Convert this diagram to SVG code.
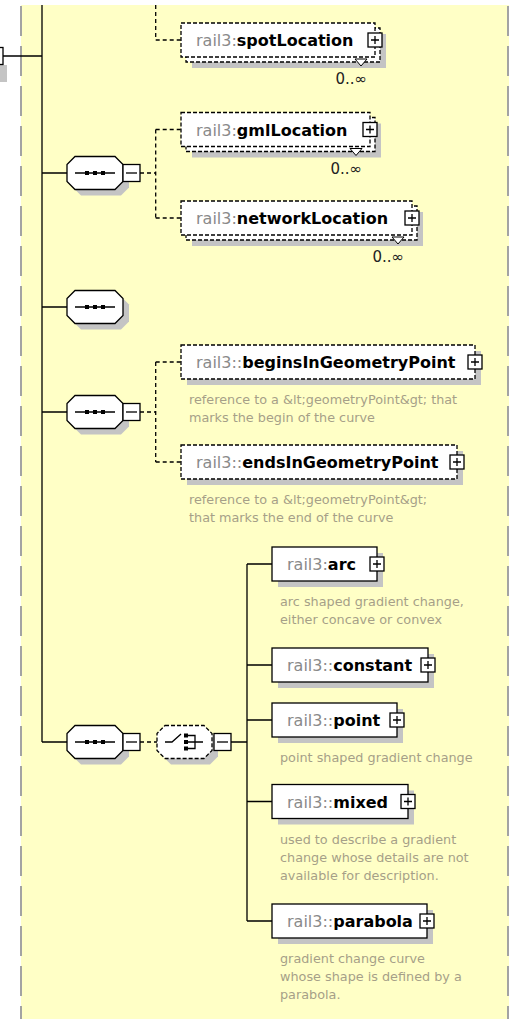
<svg xmlns="http://www.w3.org/2000/svg" xmlns:xlink="http://www.w3.org/1999/xlink" width="513" height="1019" viewBox="0 0 513 1019">
<style>
.sh{fill:#c4c4c4;stroke:none}
.bx{fill:#fff;stroke:#000;stroke-width:1.3}
.db{fill:#fff;stroke:#000;stroke-width:1.3;stroke-dasharray:4 2}
.ln{fill:none;stroke:#000;stroke-width:1.3}
.dl{fill:none;stroke:#000;stroke-width:1.3;stroke-dasharray:4 3}
.bd{fill:none;stroke:#a3a3a3;stroke-width:2;stroke-dasharray:30 10}
.t{font-family:"DejaVu Sans",Verdana,sans-serif;font-size:16px}
.p{fill:#8a8a8a}
.n{fill:#000;font-weight:bold}
.ds{font-family:"DejaVu Sans",Verdana,sans-serif;font-size:12.8px;fill:#a69f88}
.oc{font-family:"DejaVu Sans",Verdana,sans-serif;font-size:15px;fill:#222;text-anchor:end}
</style>
<defs>
<g id="seqBody">
<polygon class="sh" points="14,-10.5 54,-10.5 62,-2.5 62,14.5 54,22.5 14,22.5 6,14.5 6,-2.5"/>
<polygon class="bx" points="8,-16.5 48,-16.5 56,-8.5 56,8.5 48,16.5 8,16.5 0,8.5 0,-8.5"/>
<path class="ln" d="M8 0H48"/>
<rect x="18" y="-2" width="4" height="4" fill="#000"/>
<rect x="26" y="-2" width="4" height="4" fill="#000"/>
<rect x="34" y="-2" width="4" height="4" fill="#000"/>
</g>
<g id="minus">
<rect class="bx" x="0" y="-8.5" width="17" height="17"/>
<path class="ln" d="M3 0H14"/>
</g>
<g id="plus">
<rect class="bx" x="-7" y="-7" width="14" height="14" stroke-width="1.2"/>
<path class="ln" d="M-4 0H4M0 -4V4" stroke-width="1.2"/>
</g>
</defs>

<rect x="0" y="0" width="513" height="1019" fill="#fff"/>
<rect x="21" y="5" width="488" height="1014" fill="#FFFFC6"/>
<line class="bd" x1="21" y1="6" x2="21" y2="1019"/>
<line class="bd" x1="508" y1="6" x2="508" y2="1019"/>

<g id="parent-fragment">
<rect class="sh" x="0" y="65" width="7" height="17"/>
<rect class="bx" x="-14" y="47.5" width="17" height="17"/>
</g>

<g id="connectors">
<path class="ln" d="M3 56H42M42 5V742M42 173H67M42 307H67M42 412H67M42 742H67M231 742H247M247 564V921M247 564H272M247 665H272M247 720H272M247 801.5H272M247 921H272"/>
<path class="dl" d="M155.7 5V40H181M140 173H155.7M155.7 129.5V218M155.7 129.5H181M155.7 218H181M140 412H155.7M155.7 362V462M155.7 362H181M155.7 462H181M140 742H157"/>
</g>

<g id="seq1" transform="translate(67,173)">
<use xlink:href="#seqBody"/>
<use xlink:href="#minus" x="56"/>
</g>
<g id="seq2" transform="translate(67,307)">
<use xlink:href="#seqBody"/>
</g>
<g id="seq3" transform="translate(67,412)">
<use xlink:href="#seqBody"/>
<use xlink:href="#minus" x="56"/>
</g>
<g id="seq4" transform="translate(67,742)">
<use xlink:href="#seqBody"/>
<use xlink:href="#minus" x="56"/>
</g>

<g id="choice" transform="translate(157,742)">
<polygon class="sh" points="14,-10.5 53,-10.5 61,-2.5 61,14.5 53,22.5 14,22.5 6,14.5 6,-2.5"/>
<polygon class="db" points="8,-16.5 47,-16.5 55,-8.5 55,8.5 47,16.5 8,16.5 0,8.5 0,-8.5"/>
<path class="ln" d="M8 0H15L24 -8M31 -6.5H38V6.5H31M31 0H46"/>
<rect x="27" y="-8.5" width="4" height="4" fill="#000"/>
<rect x="27" y="-2" width="4" height="4" fill="#000"/>
<rect x="27" y="4.5" width="4" height="4" fill="#000"/>
<use xlink:href="#minus" x="57"/>
</g>

<g id="spotLocation">
<rect class="sh" x="192" y="34" width="194" height="34"/>
<rect class="db" x="186" y="28" width="194" height="34"/>
<rect class="db" x="181" y="23" width="194" height="34"/>
<text class="t" x="196" y="46"><tspan class="p">rail3:</tspan><tspan class="n">spotLocation</tspan></text>
<use xlink:href="#plus" x="375" y="40"/>
<polygon points="355,59 361,66 367,59" fill="#fff" stroke="#000" stroke-width="1"/>
<text class="oc" x="367" y="84">0..∞</text>
</g>

<g id="gmlLocation">
<rect class="sh" x="192" y="123.5" width="189" height="34"/>
<rect class="db" x="186" y="117.5" width="189" height="34"/>
<rect class="db" x="181" y="112.5" width="189" height="34"/>
<text class="t" x="196" y="135.5"><tspan class="p">rail3:</tspan><tspan class="n">gmlLocation</tspan></text>
<use xlink:href="#plus" x="370" y="129.5"/>
<polygon points="350,148.5 356,155.5 362,148.5" fill="#fff" stroke="#000" stroke-width="1"/>
<text class="oc" x="362" y="173.5">0..∞</text>
</g>

<g id="networkLocation">
<rect class="sh" x="192" y="212" width="231" height="34"/>
<rect class="db" x="186" y="206" width="231" height="34"/>
<rect class="db" x="181" y="201" width="231" height="34"/>
<text class="t" x="196" y="224"><tspan class="p">rail3:</tspan><tspan class="n">networkLocation</tspan></text>
<use xlink:href="#plus" x="412" y="218"/>
<polygon points="392,237 398,244 404,237" fill="#fff" stroke="#000" stroke-width="1"/>
<text class="oc" x="404" y="262">0..∞</text>
</g>

<g id="beginsInGeometryPoint">
<rect class="sh" x="187" y="351" width="294" height="34"/>
<rect class="db" x="181" y="345" width="294" height="34"/>
<text class="t" x="196" y="368"><tspan class="p">rail3::</tspan><tspan class="n">beginsInGeometryPoint</tspan></text>
<use xlink:href="#plus" x="475" y="362"/>
<text class="ds" x="189" y="404">reference to a &amp;lt;geometryPoint&amp;gt; that</text>
<text class="ds" x="189" y="422">marks the begin of the curve</text>
</g>

<g id="endsInGeometryPoint">
<rect class="sh" x="187" y="451" width="276" height="34"/>
<rect class="db" x="181" y="445" width="276" height="34"/>
<text class="t" x="196" y="468"><tspan class="p">rail3::</tspan><tspan class="n">endsInGeometryPoint</tspan></text>
<use xlink:href="#plus" x="457" y="462"/>
<text class="ds" x="189" y="504">reference to a &amp;lt;geometryPoint&amp;gt;</text>
<text class="ds" x="189" y="522">that marks the end of the curve</text>
</g>

<g id="arc">
<rect class="sh" x="278" y="553" width="105" height="34"/>
<rect class="bx" x="272" y="547" width="105" height="34"/>
<text class="t" x="287" y="570"><tspan class="p">rail3:</tspan><tspan class="n">arc</tspan></text>
<use xlink:href="#plus" x="377" y="564"/>
<text class="ds" x="280" y="606">arc shaped gradient change,</text>
<text class="ds" x="280" y="624">either concave or convex</text>
</g>

<g id="constant">
<rect class="sh" x="278" y="654" width="156" height="34"/>
<rect class="bx" x="272" y="648" width="156" height="34"/>
<text class="t" x="287" y="671"><tspan class="p">rail3::</tspan><tspan class="n">constant</tspan></text>
<use xlink:href="#plus" x="428" y="665"/>
</g>

<g id="point">
<rect class="sh" x="278" y="709" width="125" height="34"/>
<rect class="bx" x="272" y="703" width="125" height="34"/>
<text class="t" x="287" y="726"><tspan class="p">rail3::</tspan><tspan class="n">point</tspan></text>
<use xlink:href="#plus" x="397" y="720"/>
<text class="ds" x="280" y="762">point shaped gradient change</text>
</g>

<g id="mixed">
<rect class="sh" x="278" y="790.5" width="136" height="34"/>
<rect class="bx" x="272" y="784.5" width="136" height="34"/>
<text class="t" x="287" y="807.5"><tspan class="p">rail3::</tspan><tspan class="n">mixed</tspan></text>
<use xlink:href="#plus" x="408" y="801.5"/>
<text class="ds" x="280" y="843.5">used to describe a gradient</text>
<text class="ds" x="280" y="861.5">change whose details are not</text>
<text class="ds" x="280" y="879.5">available for description.</text>
</g>

<g id="parabola">
<rect class="sh" x="278" y="910" width="155" height="34"/>
<rect class="bx" x="272" y="904" width="155" height="34"/>
<text class="t" x="287" y="927"><tspan class="p">rail3::</tspan><tspan class="n">parabola</tspan></text>
<use xlink:href="#plus" x="427" y="921"/>
<text class="ds" x="280" y="963">gradient change curve</text>
<text class="ds" x="280" y="981">whose shape is defined by a</text>
<text class="ds" x="280" y="999">parabola.</text>
</g>
</svg>
